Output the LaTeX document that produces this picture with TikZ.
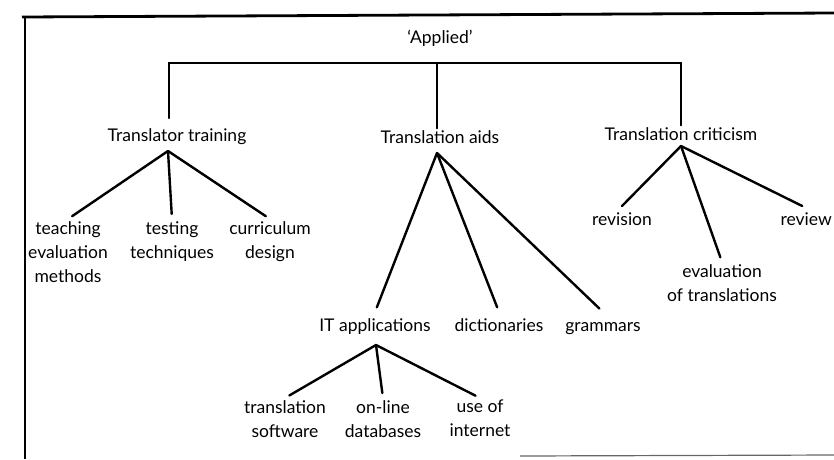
\documentclass[tikz,border=0pt]{standalone}
\usepackage{fontspec}
\setmainfont{Lato}
\tikzset{
	lbl/.style={inner sep=2pt,font=\fontsize{17.5}{24}\selectfont,align=center},
	kid/.style={lbl,anchor=north,execute at begin node=\strut},
	branch/.style={line width=2.4pt,line cap=round},
	twig/.style={branch,shorten >=5pt},
	frame/.style={line width=2.8pt}
}
\begin{document}
\begin{tikzpicture}[x=1pt,y=-1pt]
	\useasboundingbox (0,0) rectangle (834,459);
	% frame
	\draw[frame] (22,17) -- (834,13);
	\draw[frame] (25,16) -- (25,459);
	\draw[line width=1.2pt,black!60] (520,456) -- (834,455);
	% top level
	\node[lbl] at (440,38) (app) {`Applied'};
	\node[lbl] at (177,137) (tt) {Translator training};
	\node[lbl] at (440,137) (ta) {Translation aids};
	\node[lbl] at (681,134) (tc) {Translation criticism};
	\coordinate (bar) at (437,63);
	\draw[branch] (169,118) |- (bar) -| (tc.north);
	\draw[branch] (ta.north -| bar) -- (bar);
	% translator training
	\coordinate (tt-a) at (168,151);
	\node[kid] at (68,219) (teach) {teaching\\evaluation\\methods};
	\node[kid] at (172,219) (test) {testing\\techniques};
	\node[kid] at (270,219) (curr) {curriculum\\design};
	\draw[twig] (tt-a) -- (teach.north);
	\draw[twig] (tt-a) -- (test.north);
	\draw[twig] (tt-a) -- (curr.north);
	% translation aids
	\coordinate (ta-a) at (437,153);
	\node[kid] at (375,312) (it) {IT applications};
	\node[kid] at (499,312) (dict) {dictionaries};
	\node[kid] at (603,312) (gram) {grammars};
	\draw[twig] (ta-a) -- (it.north);
	\draw[twig] (ta-a) -- (dict.north);
	\draw[twig] (ta-a) -- (gram.north);
	% IT applications
	\coordinate (it-a) at (376,345);
	\node[kid] at (285,398) (soft) {translation\\software};
	\node[kid] at (383,398) (onl) {on-line\\databases};
	\node[kid] at (480,398) (use) {use of\\internet};
	\draw[twig] (it-a) -- (soft.north);
	\draw[twig] (it-a) -- (onl.north);
	\draw[twig] (it-a) -- (use.north);
	% translation criticism
	\coordinate (tc-a) at (681,146);
	\node[kid] at (622,206) (rev) {revision};
	\node[kid] at (722,262) (evt) {evaluation\\of translations};
	\node[kid,anchor=north east] at (834,206) (revw) {review};
	\draw[branch] (tc-a) -- (rev.north);
	\draw[twig] (tc-a) -- (evt.north);
	\draw[branch] (tc-a) -- ([xshift=-4pt]revw.north);
\end{tikzpicture}
\end{document}
